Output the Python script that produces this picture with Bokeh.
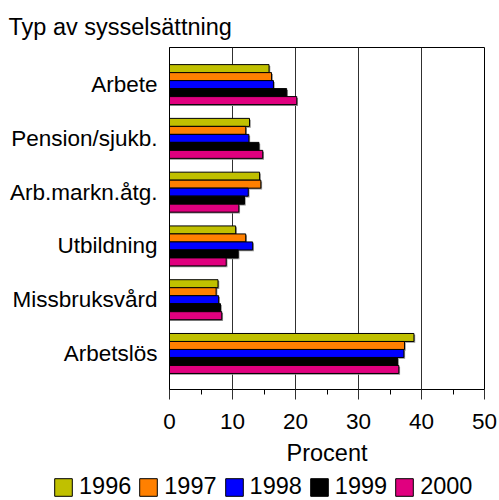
from bokeh.plotting import figure
from bokeh.models import Range1d, Legend, LegendItem, FixedTicker, Title, ColumnDataSource
from bokeh.embed import file_html
from bokeh.resources import INLINE

categories = ["Arbete", "Pension/sjukb.", "Arb.markn.åtg.", "Utbildning", "Missbruksvård", "Arbetslös"]
years = ["1996", "1997", "1998", "1999", "2000"]
values = {
    "1996": [15.8, 12.7, 14.3, 10.5, 7.7, 38.8],
    "1997": [16.2, 12.1, 14.5, 12.1, 7.4, 37.3],
    "1998": [16.5, 12.6, 12.5, 13.2, 7.8, 37.2],
    "1999": [18.6, 14.2, 11.9, 10.9, 8.1, 36.2],
    "2000": [20.2, 14.8, 11.0, 9.0, 8.3, 36.4],
}
colors = ["#C0C000", "#FF8000", "#0000FF", "#000000", "#E0007F"]
x_ticks = [0, 10, 20, 30, 40, 50]

FONT = "Liberation Sans"
n = len(categories)
ypos = [n - 1 - i for i in range(n)]

p = figure(width=499, height=470, output_backend="svg", toolbar_location=None,
           x_range=Range1d(0, 50), y_range=Range1d(-0.67, n - 1 + 0.69),
           min_border_left=169, min_border_right=15, min_border_top=47, min_border_bottom=81)
p.outline_line_color = "black"
p.outline_line_width = 1
p.background_fill_color = "white"
p.border_fill_color = "white"

bar_h = 0.1487
for j, (yr, col) in enumerate(zip(years, colors)):
    off = (2 - j) * bar_h
    ys = [y + off for y in ypos]
    src = ColumnDataSource(dict(y=ys, v=values[yr], vs=[v + 0.2 for v in values[yr]], ysh=[y - 0.025 for y in ys]))
    p.hbar(y="ysh", left=0, right="vs", height=bar_h, source=src, fill_color="#909090", line_color=None)
    p.hbar(y="y", left=0, right="v", height=bar_h, source=src, fill_color=col,
           line_color="black", line_width=1)

# x axis
p.xaxis.ticker = FixedTicker(ticks=x_ticks, minor_ticks=[5, 15, 25, 35, 45])
p.xaxis.axis_label = "Procent"
p.xaxis.axis_label_text_font = FONT
p.xaxis.axis_label_text_font_size = "23.5px"
p.xaxis.axis_label_text_font_style = "normal"
p.xaxis.axis_label_text_color = "black"
p.xaxis.axis_label_standoff = 8
p.xaxis.major_label_text_font = FONT
p.xaxis.major_label_text_font_size = "22.5px"
p.xaxis.major_label_text_color = "black"
p.xaxis.major_label_standoff = 14
p.xaxis.major_tick_out = 10
p.xaxis.major_tick_in = 0
p.xaxis.minor_tick_out = 5
p.xaxis.minor_tick_in = 0
p.xaxis.axis_line_color = "black"
p.xaxis.major_tick_line_color = "#303030"
p.xaxis.minor_tick_line_color = "black"

# y axis
p.yaxis.ticker = FixedTicker(ticks=ypos)
p.yaxis.major_label_overrides = {y: c for y, c in zip(ypos, categories)}
p.yaxis.major_label_text_font = FONT
p.yaxis.major_label_text_font_size = "22.5px"
p.yaxis.major_label_text_color = "black"
p.yaxis.major_label_standoff = 12
p.yaxis.major_tick_out = 0
p.yaxis.major_tick_in = 0
p.yaxis.minor_tick_line_color = None
p.yaxis.axis_line_color = "black"

p.xgrid.ticker = FixedTicker(ticks=x_ticks)
p.xgrid.grid_line_color = "#303030"
p.xgrid.grid_line_width = 1
p.ygrid.grid_line_color = None

p.title = Title(text="Typ av sysselsättning", align="left", offset=-161,
                text_font=FONT, text_font_size="23.5px", text_font_style="normal",
                text_color="black", standoff=15)

# legend strip (separate root so its frame is not aligned with the chart's)
lf = figure(width=499, height=30, output_backend="svg", toolbar_location=None,
            x_range=Range1d(0, 1), y_range=Range1d(0, 1), x_axis_type=None, y_axis_type=None,
            min_border_left=0, min_border_right=0, min_border_top=0, min_border_bottom=0)
lf.outline_line_color = None
lf.xgrid.grid_line_color = None
lf.ygrid.grid_line_color = None
leg_renderers = []
for yr, col in zip(years, colors):
    r = lf.hbar(y=[float("nan")], left=[float("nan")], right=[float("nan")], height=0.1,
                fill_color=col, line_color="black", line_width=1)
    leg_renderers.append(r)
legend = Legend(items=[LegendItem(label=yr, renderers=[r]) for yr, r in zip(years, leg_renderers)],
                orientation="horizontal", location=(52, 0),
                glyph_width=22, glyph_height=22, label_standoff=5, spacing=6,
                padding=0, margin=0, border_line_color=None, background_fill_alpha=0,
                label_text_font=FONT, label_text_font_size="23.5px", label_text_color="black")
lf.add_layout(legend, "center")

open("out.html", "w").write(file_html([p, lf], INLINE))
